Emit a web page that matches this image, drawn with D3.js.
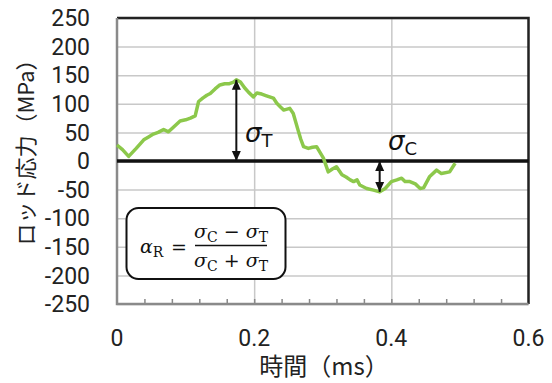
<!DOCTYPE html>
<html>
<head>
<meta charset="utf-8">
<script src="https://cdn.jsdelivr.net/npm/d3@7"></script>
<style>
  body { margin: 0; background: #fff; }
  svg { display: block; }
  .tick-label { font-family: Roboto, 'Noto Sans', sans-serif; font-size: 23px; fill: #222; }
  .title { font-family: 'Noto Sans CJK JP', sans-serif; fill: #222; }
  .math { font-family: 'DejaVu Serif', serif; font-size: 19px; fill: #111; }
</style>
</head>
<body>
<svg id="chart" width="552" height="383"></svg>
<script>
// data
const timeMs = [0.000, 0.008, 0.017, 0.028, 0.039, 0.046, 0.053, 0.060, 0.068, 0.075,
  0.083, 0.092, 0.100, 0.107, 0.114, 0.119, 0.125, 0.131, 0.136, 0.143,
  0.150, 0.157, 0.163, 0.170, 0.174, 0.180, 0.186, 0.192, 0.199, 0.204,
  0.211, 0.218, 0.228, 0.233, 0.238, 0.243, 0.252, 0.257, 0.264, 0.268,
  0.272, 0.279, 0.285, 0.291, 0.301, 0.308, 0.314, 0.320, 0.328, 0.334,
  0.340, 0.345, 0.350, 0.354, 0.364, 0.374, 0.383, 0.391, 0.400, 0.408,
  0.415, 0.420, 0.427, 0.435, 0.442, 0.447, 0.456, 0.466, 0.473, 0.485, 0.493];
const stressMPa = [28, 20, 8, 22, 37, 42, 47, 50, 55, 51,
  60, 70, 72, 75, 79, 104, 110, 115, 118, 126,
  133, 135, 135, 138, 142, 138, 128, 120, 112, 119,
  117, 114, 110, 101, 95, 89, 92, 83, 54, 38,
  25, 22, 24, 25, 5, -19, -14, -10, -24, -28,
  -33, -36, -33, -42, -48, -51, -54, -48, -36, -33,
  -30, -36, -36, -40, -48, -47, -27, -16, -22, -19, -4];

const xTicks = [0, 0.2, 0.4, 0.6];
const xMinorTicks = [0.04, 0.08, 0.12, 0.16, 0.2, 0.24, 0.28, 0.32, 0.36, 0.4, 0.44, 0.48, 0.52, 0.56];
const yTicks = [250, 200, 150, 100, 50, 0, -50, -100, -150, -200, -250];

// where the sigma arrows stand
const sigmaT = { t: 0.174, top: 142 };
const sigmaC = { t: 0.383, bottom: -54 };

const svg = d3.select('#chart');
const plot = { left: 117, right: 528.5, top: 18, bottom: 304 };

const x = d3.scaleLinear().domain([0, 0.6]).range([plot.left, plot.right]);
const y = d3.scaleLinear().domain([-250, 250]).range([plot.bottom, plot.top]);

svg.append('defs').append('marker')
  .attr('id', 'head')
  .attr('viewBox', '0 0 10 10')
  .attr('refX', 10)
  .attr('refY', 5)
  .attr('markerWidth', 10)
  .attr('markerHeight', 10)
  .attr('markerUnits', 'userSpaceOnUse')
  .attr('orient', 'auto-start-reverse')
  .append('path')
  .attr('d', 'M0,0.5 L10,5 L0,9.5 Z')
  .attr('fill', '#111');

// horizontal grid
svg.append('g')
  .attr('transform', `translate(${plot.left},0)`)
  .call(d3.axisLeft(y).tickValues(yTicks).tickSize(-(plot.right - plot.left)).tickFormat(''))
  .call(g => g.select('.domain').remove())
  .call(g => g.selectAll('line').attr('stroke', '#c8c8c8').attr('stroke-width', 1.5));

// vertical grid
svg.append('g')
  .attr('transform', `translate(0,${plot.bottom})`)
  .call(d3.axisBottom(x).tickValues([0.2, 0.4]).tickSize(-(plot.bottom - plot.top)).tickFormat(''))
  .call(g => g.select('.domain').remove())
  .call(g => g.selectAll('line').attr('stroke', '#c8c8c8').attr('stroke-width', 1.5));

// plot border top/right
svg.append('path')
  .attr('d', `M${plot.left},${plot.top} H${plot.right} V${plot.bottom}`)
  .attr('fill', 'none')
  .attr('stroke', '#222')
  .attr('stroke-width', 2.5);

// minor ticks on bottom axis (inside)
svg.append('g')
  .attr('transform', `translate(0,${plot.bottom})`)
  .call(d3.axisBottom(x).tickValues(xMinorTicks).tickSize(-5).tickFormat(''))
  .call(g => g.select('.domain').remove())
  .call(g => g.selectAll('line').attr('stroke', '#888').attr('stroke-width', 1.5));

// left & bottom axis lines
svg.append('path')
  .attr('d', `M${plot.left},${plot.top} V${plot.bottom} H${plot.right}`)
  .attr('fill', 'none')
  .attr('stroke', '#8a8a8a')
  .attr('stroke-width', 2.5);

// zero line
svg.append('line')
  .attr('x1', plot.left).attr('x2', plot.right)
  .attr('y1', y(0)).attr('y2', y(0))
  .attr('stroke', '#111')
  .attr('stroke-width', 3.5);

// tick labels
svg.append('g')
  .selectAll('text')
  .data(yTicks)
  .enter()
  .append('text')
  .classed('tick-label', true)
  .attr('x', 90)
  .attr('y', d => y(d))
  .attr('dy', '0.36em')
  .attr('text-anchor', 'end')
  .text(d => d);

svg.append('g')
  .selectAll('text')
  .data(xTicks)
  .enter()
  .append('text')
  .classed('tick-label', true)
  .attr('x', d => x(d))
  .attr('y', 346)
  .attr('text-anchor', 'middle')
  .text(d => d);

// axis titles
svg.append('text')
  .classed('title', true)
  .style('font-size', '24px')
  .attr('x', 324)
  .attr('y', 375)
  .attr('text-anchor', 'middle')
  .text('時間（ms）');

svg.append('text')
  .classed('title', true)
  .style('font-size', '22px')
  .attr('transform', 'translate(34,147) rotate(-90)')
  .attr('text-anchor', 'middle')
  .text('ロッド応力（MPa）');

// stress line
const line = d3.line()
  .x((d, i) => x(timeMs[i]))
  .y(d => y(d));

svg.append('path')
  .datum(stressMPa)
  .attr('d', line)
  .attr('fill', 'none')
  .attr('stroke', '#8cc84b')
  .attr('stroke-width', 3.5)
  .attr('stroke-linejoin', 'round');

// sigma arrows
const arrow = (t, v0, v1) => {
  svg.append('line')
    .attr('x1', x(t)).attr('x2', x(t))
    .attr('y1', y(v0)).attr('y2', y(v1))
    .attr('stroke', '#111')
    .attr('stroke-width', 2)
    .attr('marker-start', 'url(#head)')
    .attr('marker-end', 'url(#head)');
};
arrow(sigmaT.t, 0, sigmaT.top);
arrow(sigmaC.t, 0, sigmaC.bottom);

const sigmaLabel = (px, py, sub) => {
  const t = svg.append('text').attr('x', px).attr('y', py)
    .style('font-family', "'DejaVu Sans', sans-serif").style('fill', '#111');
  t.append('tspan').style('font-size', '26px').style('font-style', 'italic').text('σ');
  t.append('tspan').style('font-size', '18px').attr('dy', 5).text(sub);
};
sigmaLabel(245, 142, 'T');
sigmaLabel(388, 150, 'C');

// formula box
svg.append('rect')
  .attr('x', 126.5).attr('y', 208)
  .attr('width', 159).attr('height', 71)
  .attr('rx', 12)
  .attr('fill', '#fff')
  .attr('stroke', '#111')
  .attr('stroke-width', 2);

const math = svg.append('g').classed('math', true);
const lhs = math.append('text').attr('x', 140).attr('y', 253);
lhs.append('tspan').style('font-style', 'italic').text('α');
lhs.append('tspan').attr('dy', 4).style('font-size', '14px').text('R');
math.append('text').attr('x', 171).attr('y', 254).text('=');

const frac = (px, py, op) => {
  const t = math.append('text').attr('x', px).attr('y', py).attr('text-anchor', 'middle');
  t.append('tspan').style('font-style', 'italic').text('σ');
  t.append('tspan').attr('dy', 4).style('font-size', '14px').text('C');
  t.append('tspan').attr('dy', -4).text(` ${op} `);
  t.append('tspan').style('font-style', 'italic').text('σ');
  t.append('tspan').attr('dy', 4).style('font-size', '14px').text('T');
};
frac(231, 238, '−');
math.append('line')
  .attr('x1', 195).attr('x2', 267)
  .attr('y1', 245.5).attr('y2', 245.5)
  .attr('stroke', '#111').attr('stroke-width', 1.3);
frac(231, 267, '+');
</script>
</body>
</html>
